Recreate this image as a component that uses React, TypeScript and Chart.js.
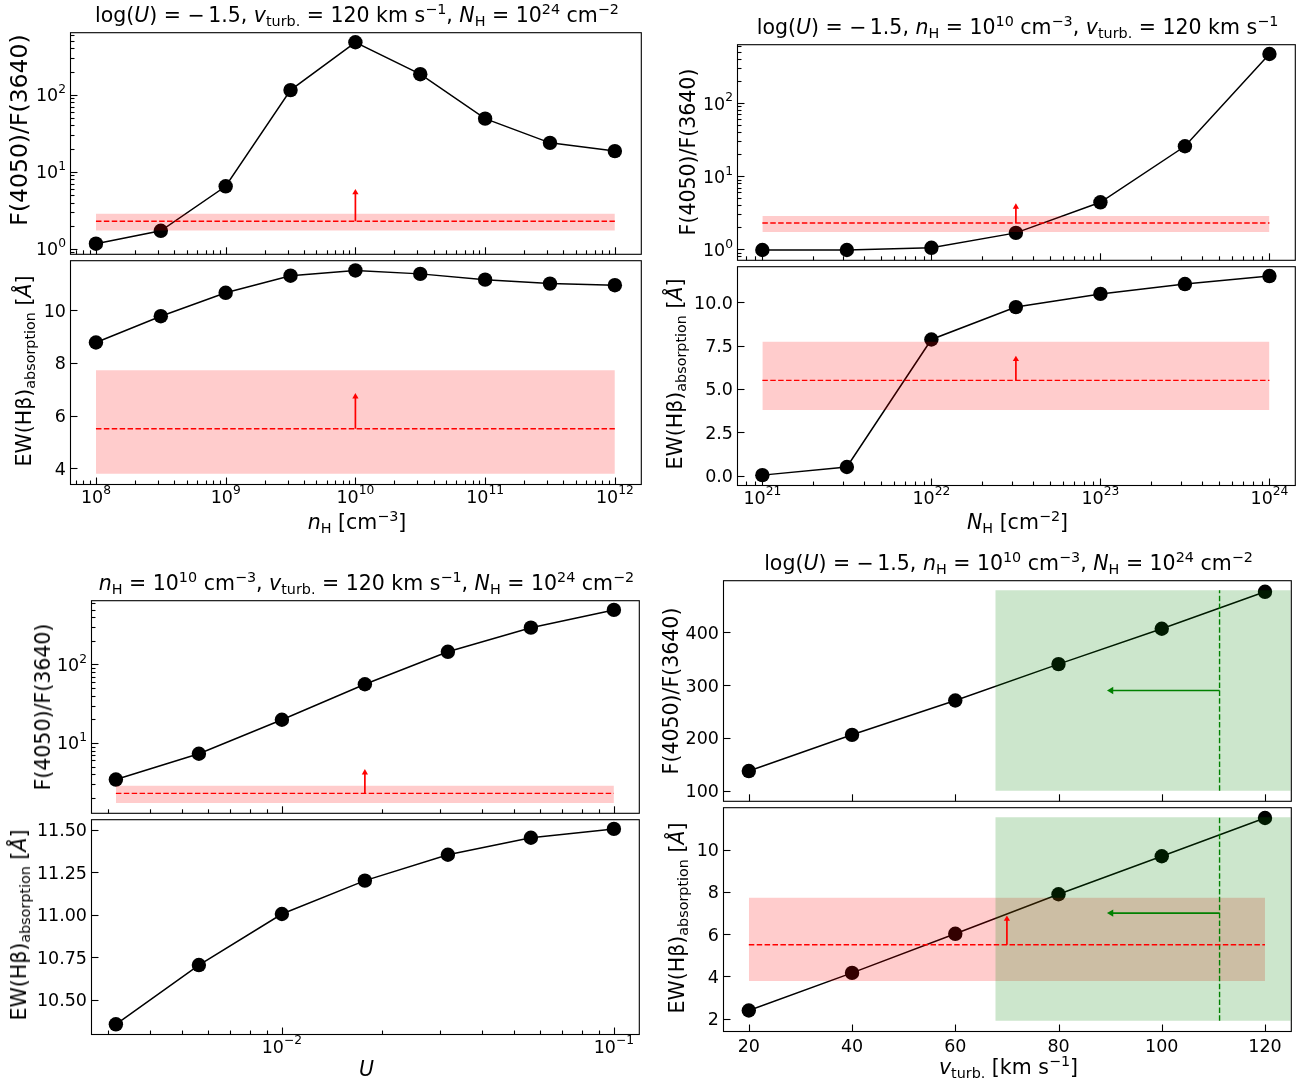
import React, { useEffect, useRef } from 'react';
import { Chart, registerables } from 'chart.js';

Chart.register(...registerables);

const FONT = '"DejaVu Sans", "Liberation Sans", Arial, sans-serif';
const TICK_FS = 17.5;
const LABEL_FS = 20.5;

// ---------------- data ----------------
// panel 1: vary n_H
const nHGrid = [1e8, 3.162e8, 1e9, 3.162e9, 1e10, 3.162e10, 1e11, 3.162e11, 1e12];
const nHRatio = [1.17, 1.72, 6.5, 115, 480, 185, 49, 23.8, 18.6];
const nHEW = [8.78, 9.78, 10.67, 11.32, 11.52, 11.39, 11.17, 11.02, 10.96];

// panel 2: vary N_H
const NHGrid = [1e21, 3.162e21, 1e22, 3.162e22, 1e23, 3.162e23, 1e24];
const NHRatio = [0.98, 0.98, 1.05, 1.68, 4.4, 25.7, 470];
const NHEW = [0.03, 0.5, 7.86, 9.73, 10.49, 11.06, 11.52];

// panel 3: vary U
const UGrid = [3.162e-3, 5.623e-3, 1e-2, 1.778e-2, 3.162e-2, 5.623e-2, 1e-1];
const URatio = [3.43, 7.3, 19.8, 56, 145, 294, 495];
const UEW = [10.356, 10.704, 11.004, 11.2, 11.352, 11.452, 11.504];

// panel 4: vary v_turb
const vGrid = [20, 40, 60, 80, 100, 120];
const vRatio = [137.4, 206, 271, 340, 407, 477];
const vEW = [2.39, 4.17, 6.02, 7.89, 9.69, 11.5];

// observational constraints: [central, low, high]
const ratioObs = [2.29, 1.73, 2.86];
const ewObs = [5.5, 3.79, 7.73];
const ratioArrowTips = [5.4, 3.8, 4.2]; // panels 1,2,3
const ewArrowTip = 6.72;
const arrowXs = [1e10, 3.162e22, 1.778e-2, 70];
const vLimit = 111.2;
const vBandX = [67.75, 125];
const vBandRatio = [100, 480];
const vBandEW = [1.9, 11.53];
const vArrowEnd = 90.2;
const vArrowRatioY = 290;
const vArrowEWY = 7.0;

// ticks
const nHTicks = [1e8, 1e9, 1e10, 1e11, 1e12];
const nHTickLabels = ['10^8', '10^9', '10^10', '10^11', '10^12'];
const NHTicks = [1e21, 1e22, 1e23, 1e24];
const NHTickLabels = ['10^21', '10^22', '10^23', '10^24'];
const UTicks = [1e-2, 1e-1];
const UTickLabels = ['10^\u22122', '10^\u22121'];
const vTicks = [20, 40, 60, 80, 100, 120];
const vTickLabels = ['20', '40', '60', '80', '100', '120'];
const ratioLogTicks = [1, 10, 100];
const ratioLogTickLabels = ['10^0', '10^1', '10^2'];
const ratioLogTicksU = [10, 100];
const ratioLogTickLabelsU = ['10^1', '10^2'];
const ewTicks1 = [4, 6, 8, 10];
const ewTickLabels1 = ['4', '6', '8', '10'];
const ewTicks2 = [0, 2.5, 5, 7.5, 10];
const ewTickLabels2 = ['0.0', '2.5', '5.0', '7.5', '10.0'];
const ewTicks3 = [10.5, 10.75, 11.0, 11.25, 11.5];
const ewTickLabels3 = ['10.50', '10.75', '11.00', '11.25', '11.50'];
const ratioLinTicks = [100, 200, 300, 400];
const ratioLinTickLabels = ['100', '200', '300', '400'];
const ewTicks4 = [2, 4, 6, 8, 10];
const ewTickLabels4 = ['2', '4', '6', '8', '10'];

// ---------------- helpers ----------------
function logMinor(min: number, max: number): number[] {
  const out: number[] = [];
  for (let e = Math.floor(Math.log10(min)); e <= Math.ceil(Math.log10(max)); e++) {
    for (let m = 2; m <= 9; m++) {
      const v = m * Math.pow(10, e);
      if (v >= min && v <= max) out.push(v);
    }
  }
  return out;
}

const pts = (xs: number[], ys: number[]) => xs.map((x, i) => ({ x, y: ys[i] }));

const RED_BAND = 'rgba(255,0,0,0.2)';
const GREEN_BAND = 'rgba(0,128,0,0.2)';

function series(xs: number[], ys: number[]) {
  return {
    data: pts(xs, ys), borderColor: '#000', borderWidth: 1.5, pointRadius: 7.2,
    pointBackgroundColor: '#000', pointBorderColor: '#000', pointBorderWidth: 0,
    fill: false, order: 3,
  };
}
function band(x: number[], y: number[], color: string, order: number) {
  return {
    data: [{ x: x[0], y: y[1] }, { x: x[1], y: y[1] }], borderColor: 'rgba(0,0,0,0)',
    borderWidth: 0, pointRadius: 0, fill: { value: y[0] }, backgroundColor: color, order,
  };
}
function dashed(x0: number, y0: number, x1: number, y1: number, color: string) {
  return {
    data: [{ x: x0, y: y0 }, { x: x1, y: y1 }], borderColor: color, borderWidth: 1.4,
    borderDash: [5.5, 2.4], pointRadius: 0, fill: false, order: 1,
  };
}
function arrow(x0: number, y0: number, x1: number, y1: number, color: string, rot: number, head: number) {
  return {
    data: [{ x: x0, y: y0 }, { x: x1, y: y1 }], borderColor: color, borderWidth: 1.7,
    pointRadius: [0, head], pointStyle: 'triangle', pointRotation: rot,
    pointBackgroundColor: color, pointBorderColor: color, pointBorderWidth: 0,
    fill: false, order: 1,
  };
}

type Cfg = {
  l: number; t: number; r: number; b: number; lower: boolean;
  xType: string; xMin: number; xMax: number;
  yType: string; yMin: number; yMax: number;
  xTicks: number[]; xLabels: string[] | null; xMinor: number[];
  yTicks: number[]; yLabels: string[]; yMinor: number[];
  datasets: any[];
};

const PL = 72, PT = 4, PR = 4;

function drawTickLabel(ctx: CanvasRenderingContext2D, label: string, x: number, baseline: number, align: 'center' | 'right') {
  const [base, exp] = label.split('^');
  ctx.font = `${TICK_FS}px ${FONT}`;
  const wb = ctx.measureText(base).width;
  let we = 0;
  if (exp) {
    ctx.font = `${TICK_FS * 0.7}px ${FONT}`;
    we = ctx.measureText(exp).width;
  }
  const total = wb + we;
  const x0 = align === 'center' ? x - total / 2 : x - total;
  ctx.textAlign = 'left';
  ctx.textBaseline = 'alphabetic';
  ctx.font = `${TICK_FS}px ${FONT}`;
  ctx.fillText(base, x0, baseline);
  if (exp) {
    ctx.font = `${TICK_FS * 0.7}px ${FONT}`;
    ctx.fillText(exp, x0 + wb, baseline - 0.46 * TICK_FS);
  }
}

function makeDeco(cfg: Cfg) {
  return {
    id: 'deco',
    afterDraw(chart: any) {
      const ctx: CanvasRenderingContext2D = chart.ctx;
      const a = chart.chartArea;
      const xs = chart.scales.x;
      const ys = chart.scales.y;
      ctx.save();
      ctx.strokeStyle = '#000';
      ctx.lineWidth = 1.1;
      const seg = (x1: number, y1: number, x2: number, y2: number) => {
        ctx.beginPath(); ctx.moveTo(x1, y1); ctx.lineTo(x2, y2); ctx.stroke();
      };
      const bottom = a.bottom + 0.5, left = a.left + 0.5;
      cfg.xTicks.forEach((v) => { const p = Math.round(xs.getPixelForValue(v)) + 0.5; seg(p, bottom, p, bottom - 7); });
      cfg.xMinor.forEach((v) => { const p = Math.round(xs.getPixelForValue(v)) + 0.5; seg(p, bottom, p, bottom - 4); });
      cfg.yTicks.forEach((v) => { const p = Math.round(ys.getPixelForValue(v)) + 0.5; seg(left, p, left + 7, p); });
      cfg.yMinor.forEach((v) => { const p = Math.round(ys.getPixelForValue(v)) + 0.5; seg(left, p, left + 4, p); });
      ctx.strokeRect(a.left + 0.5, a.top + 0.5, a.right - a.left, a.bottom - a.top);
      ctx.fillStyle = '#000';
      if (cfg.xLabels) {
        const off = cfg.xType === 'logarithmic' ? 18.5 : 20.5;
        cfg.xTicks.forEach((v, i) => drawTickLabel(ctx, cfg.xLabels![i], xs.getPixelForValue(v), a.bottom + off, 'center'));
      }
      cfg.yTicks.forEach((v, i) => drawTickLabel(ctx, cfg.yLabels[i], a.left - 4, ys.getPixelForValue(v) + 6.4, 'right'));
      ctx.restore();
    },
  };
}

function SubplotCanvas({ cfg }: { cfg: Cfg }) {
  const ref = useRef<HTMLCanvasElement>(null);
  const PB = cfg.lower ? 34 : 4;
  const w = cfg.r - cfg.l + PL + PR;
  const h = cfg.b - cfg.t + PT + PB;
  useEffect(() => {
    const chart = new Chart(ref.current as HTMLCanvasElement, {
      type: 'line',
      data: { datasets: cfg.datasets },
      options: {
        responsive: false,
        animation: false,
        devicePixelRatio: 1,
        events: [],
        layout: { padding: { left: PL, top: PT, right: PR, bottom: PB } },
        plugins: { legend: { display: false }, tooltip: { enabled: false }, title: { display: false } },
        scales: {
          x: { type: cfg.xType, min: cfg.xMin, max: cfg.xMax, display: false, bounds: 'data' },
          y: { type: cfg.yType, min: cfg.yMin, max: cfg.yMax, display: false, bounds: 'data' },
        },
        elements: { line: { tension: 0 } },
      } as any,
      plugins: [makeDeco(cfg)],
    } as any);
    return () => chart.destroy();
  }, []);
  return (
    <canvas
      ref={ref}
      width={w}
      height={h}
      style={{ position: 'absolute', left: cfg.l - PL, top: cfg.t - PT, width: w, height: h }}
    />
  );
}

// ---------------- subplot definitions ----------------
const p = (e: number) => Math.pow(10, e);

const TLx = { xType: 'logarithmic', xMin: p(7.8), xMax: p(12.2), xTicks: nHTicks, xMinor: logMinor(p(7.8), p(12.2)) };
const TRx = { xType: 'logarithmic', xMin: p(20.85), xMax: p(24.15), xTicks: NHTicks, xMinor: logMinor(p(20.85), p(24.15)) };
const BLx = { xType: 'logarithmic', xMin: p(-2.575), xMax: p(-0.925), xTicks: UTicks, xMinor: logMinor(p(-2.575), p(-0.925)) };
const BRx = { xType: 'linear', xMin: 15, xMax: 125, xTicks: vTicks, xMinor: [] as number[] };

const SUBPLOTS: Cfg[] = [
  {
    l: 70, r: 644, t: 29, b: 257, lower: false, ...TLx, xLabels: null,
    yType: 'logarithmic', yMin: p(-0.063), yMax: p(2.812),
    yTicks: ratioLogTicks, yLabels: ratioLogTickLabels, yMinor: logMinor(p(-0.063), p(2.812)),
    datasets: [
      series(nHGrid, nHRatio),
      band([nHGrid[0], nHGrid[nHGrid.length - 1]], [ratioObs[1], ratioObs[2]], RED_BAND, 2),
      dashed(nHGrid[0], ratioObs[0], nHGrid[nHGrid.length - 1], ratioObs[0], 'red'),
      arrow(arrowXs[0], ratioObs[0], arrowXs[0], ratioArrowTips[0], 'red', 0, 3.6),
    ],
  },
  {
    l: 70, r: 644, t: 257, b: 484, lower: true, ...TLx, xLabels: nHTickLabels,
    yType: 'linear', yMin: 3.40, yMax: 11.91,
    yTicks: ewTicks1, yLabels: ewTickLabels1, yMinor: [],
    datasets: [
      series(nHGrid, nHEW),
      band([nHGrid[0], nHGrid[nHGrid.length - 1]], [ewObs[1], ewObs[2]], RED_BAND, 2),
      dashed(nHGrid[0], ewObs[0], nHGrid[nHGrid.length - 1], ewObs[0], 'red'),
      arrow(arrowXs[0], ewObs[0], arrowXs[0], ewArrowTip, 'red', 0, 3.6),
    ],
  },
  {
    l: 737, r: 1298, t: 41, b: 263, lower: false, ...TRx, xLabels: null,
    yType: 'logarithmic', yMin: p(-0.143), yMax: p(2.806),
    yTicks: ratioLogTicks, yLabels: ratioLogTickLabels, yMinor: logMinor(p(-0.143), p(2.806)),
    datasets: [
      series(NHGrid, NHRatio),
      band([NHGrid[0], NHGrid[NHGrid.length - 1]], [ratioObs[1], ratioObs[2]], RED_BAND, 2),
      dashed(NHGrid[0], ratioObs[0], NHGrid[NHGrid.length - 1], ratioObs[0], 'red'),
      arrow(arrowXs[1], ratioObs[0], arrowXs[1], ratioArrowTips[1], 'red', 0, 3.6),
    ],
  },
  {
    l: 737, r: 1298, t: 263, b: 485, lower: true, ...TRx, xLabels: NHTickLabels,
    yType: 'linear', yMin: -0.54, yMax: 12.09,
    yTicks: ewTicks2, yLabels: ewTickLabels2, yMinor: [],
    datasets: [
      series(NHGrid, NHEW),
      band([NHGrid[0], NHGrid[NHGrid.length - 1]], [ewObs[1], ewObs[2]], RED_BAND, 2),
      dashed(NHGrid[0], ewObs[0], NHGrid[NHGrid.length - 1], ewObs[0], 'red'),
      arrow(arrowXs[1], ewObs[0], arrowXs[1], ewArrowTip, 'red', 0, 3.6),
    ],
  },
  {
    l: 91, r: 642, t: 597, b: 816, lower: false, ...BLx, xLabels: null,
    yType: 'logarithmic', yMin: p(0.112), yMax: p(2.818),
    yTicks: ratioLogTicksU, yLabels: ratioLogTickLabelsU, yMinor: logMinor(p(0.112), p(2.818)),
    datasets: [
      series(UGrid, URatio),
      band([UGrid[0], UGrid[UGrid.length - 1]], [ratioObs[1], ratioObs[2]], RED_BAND, 2),
      dashed(UGrid[0], ratioObs[0], UGrid[UGrid.length - 1], ratioObs[0], 'red'),
      arrow(arrowXs[2], ratioObs[0], arrowXs[2], ratioArrowTips[2], 'red', 0, 3.6),
    ],
  },
  {
    l: 91, r: 642, t: 816, b: 1034, lower: true, ...BLx, xLabels: UTickLabels,
    yType: 'linear', yMin: 10.299, yMax: 11.561,
    yTicks: ewTicks3, yLabels: ewTickLabels3, yMinor: [],
    datasets: [series(UGrid, UEW)],
  },
  {
    l: 723, r: 1294, t: 577, b: 804, lower: false, ...BRx, xLabels: null,
    yType: 'linear', yMin: 81, yMax: 499,
    yTicks: ratioLinTicks, yLabels: ratioLinTickLabels, yMinor: [],
    datasets: [
      series(vGrid, vRatio),
      band(vBandX, vBandRatio, GREEN_BAND, 2),
      dashed(vLimit, vBandRatio[0], vLimit, vBandRatio[1], 'green'),
      arrow(vLimit, vArrowRatioY, vArrowEnd, vArrowRatioY, 'green', -90, 4.2),
    ],
  },
  {
    l: 723, r: 1294, t: 804, b: 1031, lower: true, ...BRx, xLabels: vTickLabels,
    yType: 'linear', yMin: 1.42, yMax: 12.01,
    yTicks: ewTicks4, yLabels: ewTickLabels4, yMinor: [],
    datasets: [
      series(vGrid, vEW),
      band([vGrid[0], vGrid[vGrid.length - 1]], [ewObs[1], ewObs[2]], RED_BAND, 2.2),
      band(vBandX, vBandEW, GREEN_BAND, 2.1),
      dashed(vGrid[0], ewObs[0], vGrid[vGrid.length - 1], ewObs[0], 'red'),
      arrow(arrowXs[3], ewObs[0], arrowXs[3], ewArrowTip, 'red', 0, 3.6),
      dashed(vLimit, vBandEW[0], vLimit, vBandEW[1], 'green'),
      arrow(vLimit, vArrowEWY, vArrowEnd, vArrowEWY, 'green', -90, 4.2),
    ],
  },
];

// ---------------- text helpers ----------------
const Sb = ({ children }: any) => (
  <span style={{ fontSize: '70%', verticalAlign: '-0.25em', lineHeight: 0 }}>{children}</span>
);
const Sp = ({ children }: any) => (
  <span style={{ fontSize: '70%', verticalAlign: '0.58em', lineHeight: 0 }}>{children}</span>
);

function HText({ x, baseline, children }: any) {
  return (
    <div
      style={{
        position: 'absolute', left: x, top: baseline - 0.846 * LABEL_FS, transform: 'translateX(-50%)',
        fontSize: LABEL_FS, lineHeight: 1, whiteSpace: 'nowrap', fontFamily: FONT, color: '#000',
      }}
    >
      {children}
    </div>
  );
}
function VText({ baselineX, cy, children, size = LABEL_FS }: any) {
  return (
    <div
      style={{
        position: 'absolute', left: baselineX - 0.846 * size, top: cy, transformOrigin: '0 0',
        transform: 'rotate(-90deg) translateX(-50%)', fontSize: size, lineHeight: 1,
        whiteSpace: 'nowrap', fontFamily: FONT, color: '#000',
      }}
    >
      {children}
    </div>
  );
}

const TH = '\u2006';
const logU = <>log(<i>U</i>) = −{TH}1.5</>;
const vt = <><i>v</i><Sb>turb.</Sb> = 120 km s<Sp>−1</Sp></>;
const nh = <><i>n</i><Sb>H</Sb> = 10<Sp>10</Sp> cm<Sp>−3</Sp></>;
const NHt = <><i>N</i><Sb>H</Sb> = 10<Sp>24</Sp> cm<Sp>−2</Sp></>;
const ratioLabel = 'F(4050)/F(3640)';
const ewLabel = <>EW(Hβ)<Sb>absorption</Sb> [<i>Å</i>]</>;

export default function App() {
  return (
    <div
      style={{
        position: 'absolute', left: 0, top: 0, width: 1314, height: 1086, background: '#fff',
        overflow: 'hidden', fontFamily: FONT,
      }}
    >
      {SUBPLOTS.map((c, i) => <SubplotCanvas key={i} cfg={c} />)}

      <HText x={357} baseline={22}>{logU}, {vt}, {NHt}</HText>
      <HText x={1017.5} baseline={34}>{logU}, {nh}, {vt}</HText>
      <HText x={366.5} baseline={590}>{nh}, {vt}, {NHt}</HText>
      <HText x={1008.5} baseline={570}>{logU}, {nh}, {NHt}</HText>

      <HText x={357} baseline={529}><i>n</i><Sb>H</Sb> [cm<Sp>−3</Sp>]</HText>
      <HText x={1017.5} baseline={529}><i>N</i><Sb>H</Sb> [cm<Sp>−2</Sp>]</HText>
      <HText x={366.5} baseline={1076}><i>U</i></HText>
      <HText x={1008.5} baseline={1074.5}><i>v</i><Sb>turb.</Sb> [km s<Sp>−1</Sp>]</HText>

      <VText baselineX={27.5} cy={130} size={23.5}>{ratioLabel}</VText>
      <VText baselineX={31} cy={370.5}>{ewLabel}</VText>
      <VText baselineX={695} cy={152}>{ratioLabel}</VText>
      <VText baselineX={682} cy={374}>{ewLabel}</VText>
      <VText baselineX={50} cy={706.5}>{ratioLabel}</VText>
      <VText baselineX={26} cy={925}>{ewLabel}</VText>
      <VText baselineX={678} cy={690.5}>{ratioLabel}</VText>
      <VText baselineX={684.5} cy={917.5}>{ewLabel}</VText>
    </div>
  );
}
